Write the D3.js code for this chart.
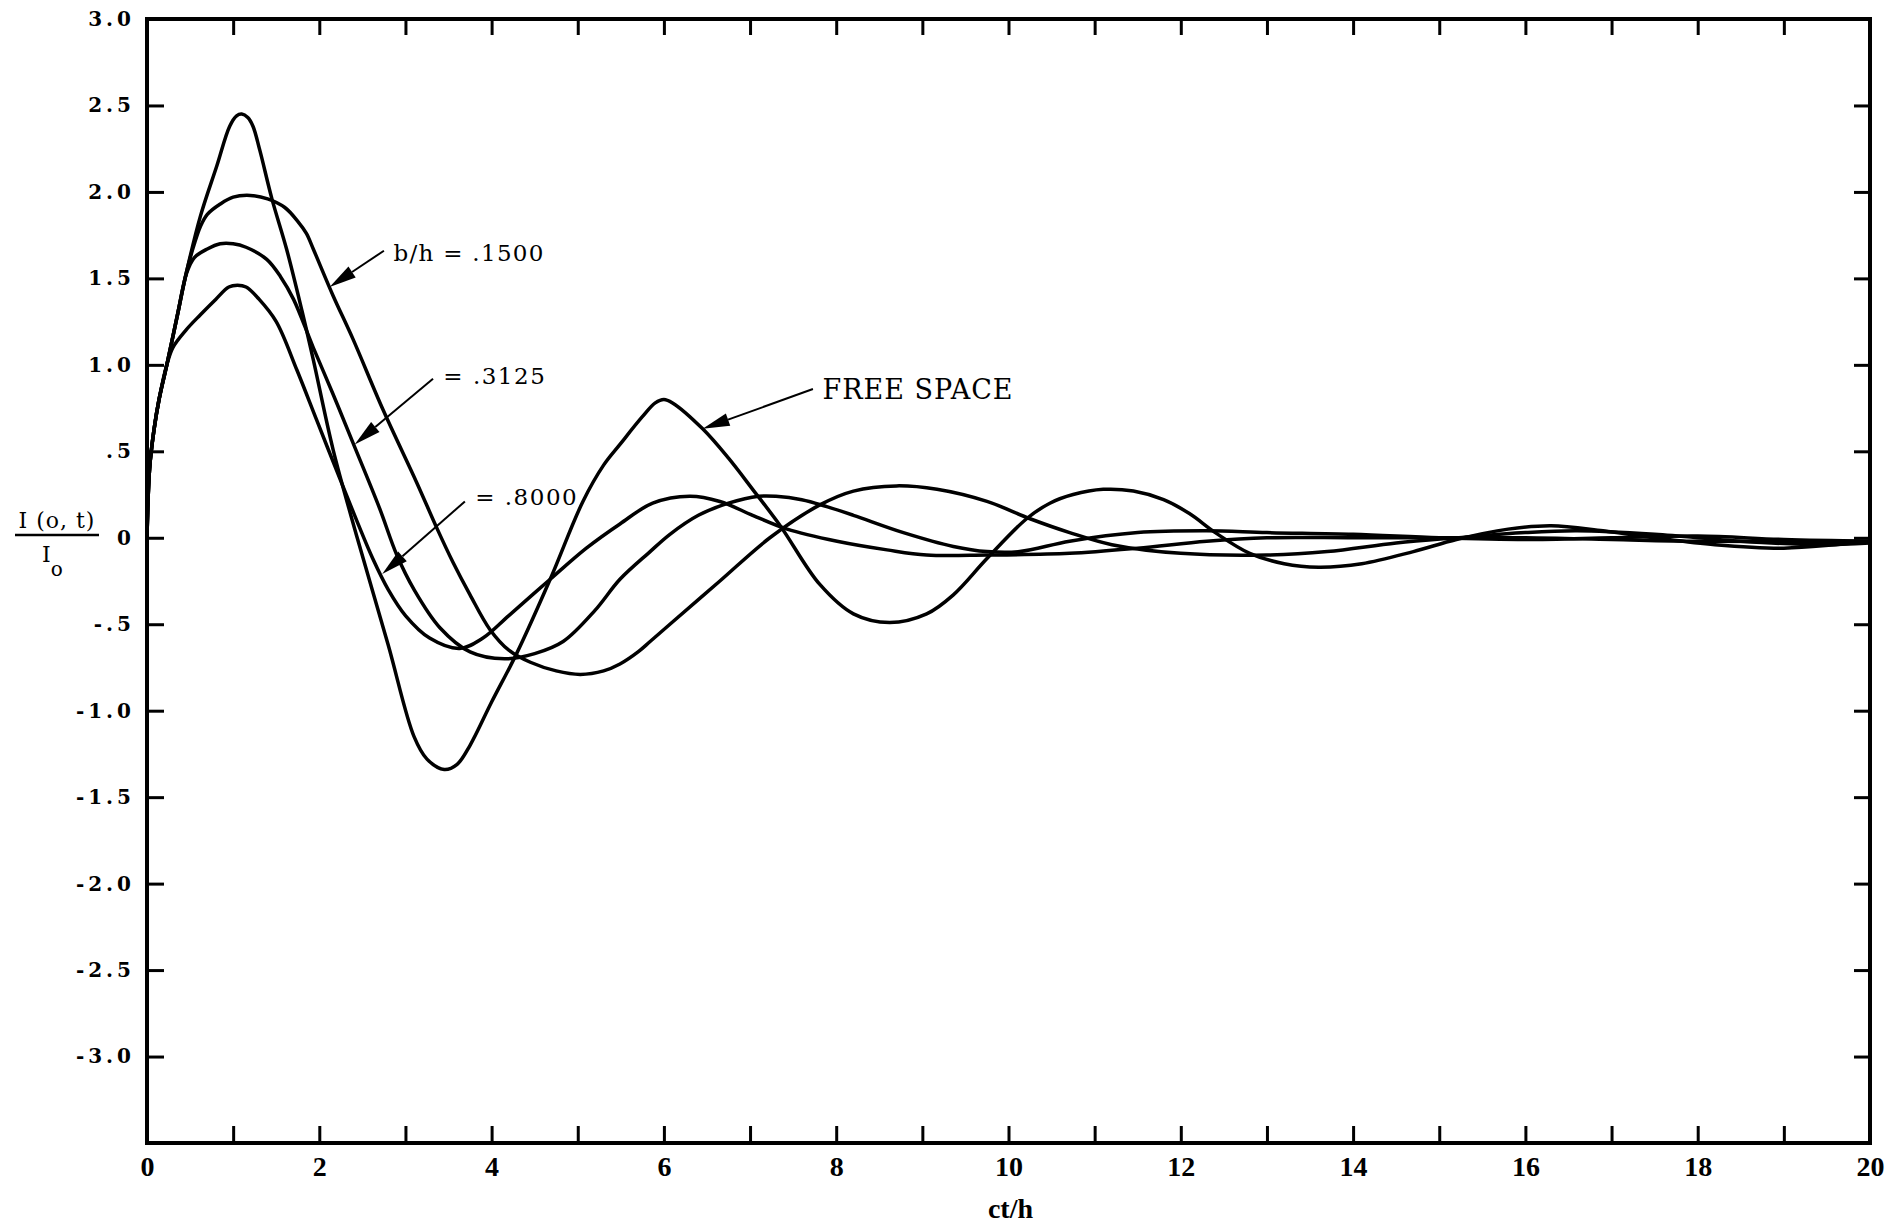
<!DOCTYPE html>
<html>
<head>
<meta charset="utf-8">
<script src="https://cdn.jsdelivr.net/npm/d3@7"></script>
<style>
  body { margin: 0; background: #fff; }
</style>
</head>
<body>
<div id="my_dataviz"></div>
<script>

// tick values and labels
var xTicks = d3.range(0, 21);
var yTicks = [-3, -2.5, -2, -1.5, -1, -0.5, 0, 0.5, 1, 1.5, 2, 2.5, 3];
var yTickLabels = ["-3.0", "-2.5", "-2.0", "-1.5", "-1.0", "-.5", "0", ".5", "1.0", "1.5", "2.0", "2.5", "3.0"];

// curves: [ct/h, I(o,t)/Io]
var freeSpace = [[0,0],[0.03,0.4],[0.08,0.62],[0.14,0.8],[0.23,1.0],[0.35,1.28],[0.46,1.54],[0.62,1.86],
  [0.81,2.15],[0.96,2.38],[1.04,2.44],[1.1,2.45],[1.17,2.43],[1.23,2.38],[1.31,2.24],[1.45,1.96],[1.62,1.67],
  [1.8,1.31],[1.93,1.03],[2.16,0.51],[2.44,0.0],[2.8,-0.62],[3.1,-1.15],[3.25,-1.28],[3.45,-1.34],[3.6,-1.31],
  [3.75,-1.2],[4.0,-0.95],[4.29,-0.67],[4.68,-0.24],[5.06,0.21],[5.3,0.42],[5.49,0.54],[5.75,0.7],[5.9,0.78],
  [6.0,0.8],[6.1,0.78],[6.45,0.63],[6.75,0.46],[7.03,0.28],[7.35,0.07],[7.81,-0.27],[8.2,-0.44],[8.62,-0.49],
  [9.05,-0.44],[9.36,-0.33],[9.75,-0.12],[10.21,0.11],[10.48,0.2],[10.75,0.25],[11.1,0.28],[11.45,0.27],
  [11.8,0.22],[12.1,0.14],[12.4,0.03],[12.8,-0.09],[13.2,-0.15],[13.6,-0.17],[14.1,-0.15],[14.7,-0.08],
  [15.2,-0.01],[15.8,0.05],[16.3,0.07],[16.9,0.04],[17.5,0.0],[18.2,-0.04],[19.0,-0.06],[19.6,-0.04],[20,-0.02]];

var bh1500 = [[0,0],[0.03,0.4],[0.08,0.62],[0.14,0.8],[0.23,1.0],[0.35,1.28],[0.46,1.54],[0.55,1.7],[0.62,1.8],
  [0.7,1.87],[0.85,1.93],[1.0,1.97],[1.2,1.98],[1.4,1.96],[1.6,1.91],[1.75,1.83],[1.85,1.76],[1.93,1.67],
  [2.16,1.4],[2.39,1.15],[2.74,0.74],[3.13,0.32],[3.37,0.05],[3.55,-0.14],[3.75,-0.33],[3.98,-0.53],[4.2,-0.65],
  [4.45,-0.72],[4.75,-0.77],[5.03,-0.79],[5.3,-0.77],[5.49,-0.73],[5.7,-0.66],[5.84,-0.6],[6.07,-0.5],
  [6.65,-0.25],[7.23,0.0],[7.81,0.19],[8.2,0.27],[8.7,0.3],[9.17,0.28],[9.75,0.21],[10.25,0.11],[10.71,0.03],
  [11.2,-0.04],[12.0,-0.09],[13.0,-0.1],[13.7,-0.08],[14.5,-0.03],[15.2,0.0],[16.0,0.03],[16.6,0.04],
  [17.5,0.02],[18.5,-0.02],[19.4,-0.04],[20,-0.03]];

var bh3125 = [[0,0],[0.03,0.4],[0.08,0.62],[0.14,0.8],[0.23,1.0],[0.35,1.28],[0.46,1.53],[0.55,1.62],[0.7,1.67],
  [0.85,1.7],[1.0,1.7],[1.15,1.68],[1.39,1.61],[1.55,1.51],[1.7,1.38],[1.93,1.1],[2.16,0.83],[2.39,0.55],
  [2.7,0.17],[2.9,-0.1],[3.1,-0.3],[3.4,-0.52],[3.75,-0.66],[4.15,-0.7],[4.5,-0.67],[4.83,-0.6],[5.2,-0.42],
  [5.49,-0.24],[5.84,-0.08],[6.07,0.02],[6.4,0.13],[6.75,0.2],[7.1,0.24],[7.3,0.24],[7.6,0.22],[7.89,0.18],
  [8.2,0.13],[8.78,0.03],[9.36,-0.05],[9.75,-0.08],[10.13,-0.08],[10.71,-0.02],[11.5,0.03],[12.3,0.04],
  [13.0,0.03],[14.0,0.02],[15.0,0.0],[16.0,-0.01],[17.0,0.0],[18.0,0.01],[19.0,-0.01],[20,-0.02]];

var bh8000 = [[0,0],[0.03,0.4],[0.08,0.62],[0.14,0.8],[0.23,1.0],[0.3,1.1],[0.45,1.2],[0.62,1.29],[0.8,1.38],
  [0.95,1.45],[1.05,1.46],[1.15,1.45],[1.3,1.38],[1.5,1.25],[1.74,0.97],[1.97,0.68],[2.24,0.34],[2.45,0.08],
  [2.62,-0.12],[2.8,-0.3],[3.0,-0.45],[3.28,-0.58],[3.63,-0.64],[3.9,-0.58],[4.2,-0.45],[4.68,-0.24],
  [5.1,-0.06],[5.49,0.08],[5.87,0.2],[6.3,0.24],[6.65,0.21],[7.03,0.13],[7.43,0.05],[8.01,-0.02],[8.59,-0.07],
  [9.05,-0.1],[9.75,-0.1],[10.71,-0.09],[11.5,-0.06],[12.3,-0.02],[13.0,0.0],[14.0,0.0],[15.0,0.0],[16.0,0.0],
  [17.0,-0.01],[18.0,-0.02],[20,-0.02]];

var series = [freeSpace, bh1500, bh3125, bh8000];

// annotation labels with arrows (text start, arrow start, arrow tip) in data units
var notes = [
  {text: "b/h = .1500", tx: 2.86, ty: 1.60, x0: 2.75, y0: 1.66, x1: 2.12, y1: 1.45, size: 23, ls: 1.3},
  {text: "= .3125",     tx: 3.44, ty: 0.89, x0: 3.32, y0: 0.92, x1: 2.41, y1: 0.54, size: 23, ls: 1.5},
  {text: "= .8000",     tx: 3.81, ty: 0.19, x0: 3.69, y0: 0.21, x1: 2.73, y1: -0.21, size: 23, ls: 1.5},
  {text: "FREE SPACE",  tx: 7.84, ty: 0.80, x0: 7.73, y0: 0.86, x1: 6.45, y1: 0.63, size: 27, ls: 1}
];

// set the dimensions and margins of the graph
var margin = {top: 19, right: 20, bottom: 80, left: 147},
    width = 1890 - margin.left - margin.right,
    height = 1223 - margin.top - margin.bottom;

var svgRoot = d3.select("#my_dataviz")
    .append("svg")
    .attr("width", 1890)
    .attr("height", 1223)
    .style("background", "#fff");

var svg = svgRoot.append("g")
    .attr("transform", "translate(" + margin.left + "," + margin.top + ")");

var x = d3.scaleLinear().domain([0, 20]).range([0, width]);
var y = d3.scaleLinear().domain([-3.5, 3.0]).range([height, 0]);

// axes, ticks pointing inward
var gx = svg.append("g")
    .attr("transform", "translate(0," + height + ")")
    .call(d3.axisBottom(x).tickValues(xTicks).tickSize(-17).tickPadding(13)
          .tickFormat(function(d) { return d % 2 === 0 ? d : ""; }));
gx.selectAll("text")
    .style("font-family", "'Liberation Serif', serif")
    .style("font-weight", "bold")
    .style("font-size", "28px")
    .attr("fill", "#000");

var gy = svg.append("g")
    .call(d3.axisLeft(y).tickValues(yTicks).tickSize(-17).tickPadding(12)
          .tickFormat(function(d, i) { return yTickLabels[i]; }));
gy.selectAll("text")
    .style("font-family", "'DejaVu Serif', serif")
    .style("font-weight", "bold")
    .style("font-size", "20px")
    .style("letter-spacing", "4px")
    .attr("fill", "#000");

svg.append("g")
    .call(d3.axisTop(x).tickValues(xTicks).tickSize(-16).tickFormat(""));
svg.append("g")
    .attr("transform", "translate(" + width + ",0)")
    .call(d3.axisRight(y).tickValues(yTicks).tickSize(-16).tickFormat(""));

svg.selectAll(".domain").remove();
svg.selectAll(".tick line")
    .attr("stroke", "#000")
    .attr("stroke-width", 3);

// frame
svg.append("rect")
    .attr("x", 0).attr("y", 0)
    .attr("width", width).attr("height", height)
    .attr("fill", "none")
    .attr("stroke", "#000")
    .attr("stroke-width", 4);

// curves
var line = d3.line()
    .x(function(d) { return x(d[0]); })
    .y(function(d) { return y(d[1]); })
    .curve(d3.curveCatmullRom.alpha(0.5));

svg.selectAll(".curve")
    .data(series)
    .enter()
    .append("path")
    .attr("class", "curve")
    .attr("d", line)
    .attr("fill", "none")
    .attr("stroke", "#000")
    .attr("stroke-width", 3.5)
    .attr("stroke-linejoin", "round");

// annotations
notes.forEach(function(n) {
    var sx = x(n.x0), sy = y(n.y0), tx = x(n.x1), ty = y(n.y1);
    var dx = tx - sx, dy = ty - sy, len = Math.sqrt(dx*dx + dy*dy);
    var ux = dx / len, uy = dy / len;
    var hl = 27, hw = 6.5;
    var bx = tx - ux*hl, by = ty - uy*hl;
    svg.append("line")
        .attr("x1", sx).attr("y1", sy)
        .attr("x2", bx).attr("y2", by)
        .attr("stroke", "#000")
        .attr("stroke-width", 2);
    svg.append("polygon")
        .attr("points", [[tx, ty], [bx - uy*hw, by + ux*hw], [bx + uy*hw, by - ux*hw]].join(" "))
        .attr("fill", "#000");
    svg.append("text")
        .attr("x", x(n.tx))
        .attr("y", y(n.ty))
        .style("font-family", "'DejaVu Serif', serif")
        .style("font-size", n.size + "px")
        .style("letter-spacing", n.ls + "px")
        .text(n.text);
});

// x axis title
svgRoot.append("text")
    .attr("x", margin.left + width / 2 + 2)
    .attr("y", 1218)
    .attr("text-anchor", "middle")
    .style("font-family", "'Liberation Serif', serif")
    .style("font-weight", "bold")
    .style("font-size", "28px")
    .text("ct/h");

// y axis title as a fraction
var yl = svgRoot.append("g").style("font-family", "'DejaVu Serif', serif");
yl.append("text")
    .attr("x", 57).attr("y", 528)
    .attr("text-anchor", "middle")
    .style("font-size", "22px")
    .style("letter-spacing", "1px")
    .text("I (o, t)");
yl.append("line")
    .attr("x1", 15).attr("x2", 99)
    .attr("y1", 535).attr("y2", 535)
    .attr("stroke", "#000")
    .attr("stroke-width", 2.5);
var den = yl.append("text")
    .attr("x", 42).attr("y", 562)
    .style("font-size", "22px")
    .text("I");
den.append("tspan")
    .attr("dy", 14)
    .style("font-size", "20px")
    .text("o");

</script>
</body>
</html>
